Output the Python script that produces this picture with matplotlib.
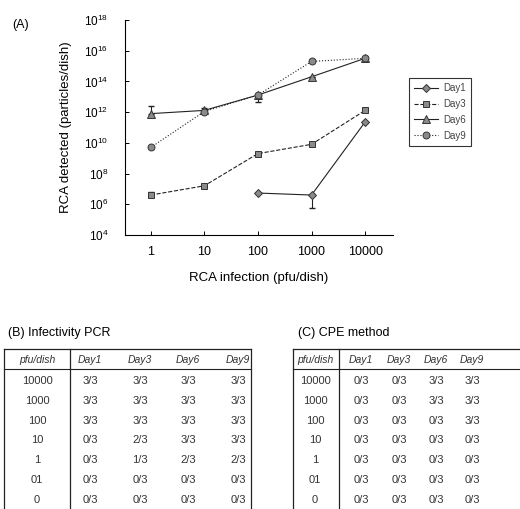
import numpy as np
import matplotlib
matplotlib.use("Agg")
import matplotlib.pyplot as plt

plt.rcParams['font.family'] = ['Liberation Sans', 'DejaVu Sans']

# (A) RCA detected vs RCA infection
pfu = [1, 10, 100, 1000, 10000]
day1 = [np.nan, np.nan, 5.4e6, 4.0e6, 2.3e11]
day3 = [4.0e6, 1.6e7, 2.0e9, 8.0e9, 1.3e12]
day6 = [8.0e11, 1.3e12, 1.3e13, 2.0e14, 3.2e15]
day9 = [5.0e9, 1.1e12, 1.3e13, 2.0e15, 3.2e15]
# error bars (lower, upper) in particles/dish
day1_err = [[0, 0, 0, 3.4e6, 0], [0, 0, 0, 0, 0]]
day3_err = [[0, 0, 0, 0, 0], [2.0e6, 0, 0, 0, 0]]
day6_err = [[0, 0, 0, 0, 0], [1.7e12, 0.7e12, 0, 0, 0]]
day9_err = [[0, 0, 8.4e12, 0, 0], [0, 0, 0, 0, 0]]

yticks = [1e4, 1e6, 1e8, 1e10, 1e12, 1e14, 1e16, 1e18]
ytick_labels = ['$\\mathregular{10^{%d}}$' % p for p in [4, 6, 8, 10, 12, 14, 16, 18]]
xtick_labels = ['1', '10', '100', '1000', '10000']

# (B) and (C) tables
row_labels = ['10000', '1000', '100', '10', '1', '01', '0']
col_labels = ['Day1', 'Day3', 'Day6', 'Day9']
pcr_table = [['3/3', '3/3', '3/3', '3/3'],
             ['3/3', '3/3', '3/3', '3/3'],
             ['3/3', '3/3', '3/3', '3/3'],
             ['0/3', '2/3', '3/3', '3/3'],
             ['0/3', '1/3', '2/3', '2/3'],
             ['0/3', '0/3', '0/3', '0/3'],
             ['0/3', '0/3', '0/3', '0/3']]
cpe_table = [['0/3', '0/3', '3/3', '3/3'],
             ['0/3', '0/3', '3/3', '3/3'],
             ['0/3', '0/3', '0/3', '3/3'],
             ['0/3', '0/3', '0/3', '0/3'],
             ['0/3', '0/3', '0/3', '0/3'],
             ['0/3', '0/3', '0/3', '0/3'],
             ['0/3', '0/3', '0/3', '0/3']]

W, H = 520, 509
fig = plt.figure(figsize=(W / 100, H / 100), dpi=100)

ax = fig.add_axes([125 / W, 1 - 235 / H, (393 - 125) / W, (235 - 20) / H])
series = [
    ('Day1', day1, day1_err, 'D', '-', 4.5),
    ('Day3', day3, day3_err, 's', '--', 5),
    ('Day6', day6, day6_err, '^', '-', 5.5),
    ('Day9', day9, day9_err, 'o', ':', 5),
]
for name, vals, err, mk, ls, ms in series:
    ax.errorbar(pfu, vals, yerr=err, fmt='none', ecolor='#222222',
                elinewidth=0.8, capsize=2.5)
    ax.plot(pfu, vals, marker=mk, linestyle=ls, color='#222222',
            lw=0.8, ms=ms, mfc='#8a8a8a', mec='#333333', mew=0.7, label=name)

ax.set_xscale('log')
ax.set_yscale('log')
ax.set_xlim(10 ** -0.48, 10 ** 4.52)
ax.set_ylim(1e4, 1e18)
ax.set_xticks(pfu)
ax.set_xticklabels(xtick_labels, fontsize=9)
ax.set_yticks(yticks)
ax.set_yticklabels(ytick_labels, fontsize=8.5)
ax.minorticks_off()
ax.tick_params(direction='in', length=3, width=0.7, pad=8)
ax.tick_params(axis='y', pad=12)
for s in ['top', 'right']:
    ax.spines[s].set_visible(False)
for s in ['left', 'bottom']:
    ax.spines[s].set_linewidth(0.8)
ax.set_ylabel('RCA detected (particles/dish)', fontsize=9.5, labelpad=9)
ax.set_xlabel('RCA infection (pfu/dish)', fontsize=9.5, labelpad=10)

leg = ax.legend(loc='upper left', bbox_to_anchor=((404 - 125) / (393 - 125), (235 - 73) / (235 - 20)),
                frameon=True, fancybox=False, edgecolor='black', fontsize=7,
                handlelength=2.4, borderpad=0.55, labelspacing=0.6, handletextpad=0.6)
leg.get_frame().set_linewidth(0.8)
for t in leg.get_texts():
    t.set_color('#444444')

# overlay for labels and tables, pixel coordinates
ov = fig.add_axes([0, 0, 1, 1])
ov.set_xlim(0, W)
ov.set_ylim(H, 0)
ov.axis('off')
ov.text(12, 25, '(A)', fontsize=9, va='center', ha='left')


def draw_table(x0, xsep, xright, pfu_x, day_x, cells, title_x, title):
    ov.text(title_x, 333, title, fontsize=9, va='center', ha='left')
    ov.plot([x0, xright], [349, 349], color='#222222', lw=0.9)
    ov.plot([x0, xright], [369, 369], color='#222222', lw=0.8)
    ov.plot([x0, x0], [349, H], color='#222222', lw=0.9)
    ov.plot([xsep, xsep], [349, H], color='#222222', lw=0.9)
    if xright < W:
        ov.plot([xright, xright], [349, H], color='#222222', lw=0.9)
    ov.text(pfu_x, 360, 'pfu/dish', fontsize=7.5, style='italic', ha='center', va='center', color='#333333')
    for j, c in enumerate(col_labels):
        ov.text(day_x[j], 360, c, fontsize=7.5, style='italic', ha='center', va='center', color='#333333')
    for i, r in enumerate(row_labels):
        y = 381 + 19.8 * i
        ov.text(pfu_x, y, r, fontsize=8, ha='center', va='center', color='#333333')
        for j, v in enumerate(cells[i]):
            ov.text(day_x[j], y, v, fontsize=8, ha='center', va='center', color='#333333')


draw_table(4, 70, 251, 37, [90, 140, 188, 238], pcr_table, 8, '(B) Infectivity PCR')
draw_table(293, 339, W, 315, [361, 399, 436, 472], cpe_table, 298, '(C) CPE method')

fig.savefig('out.png', dpi=100)
